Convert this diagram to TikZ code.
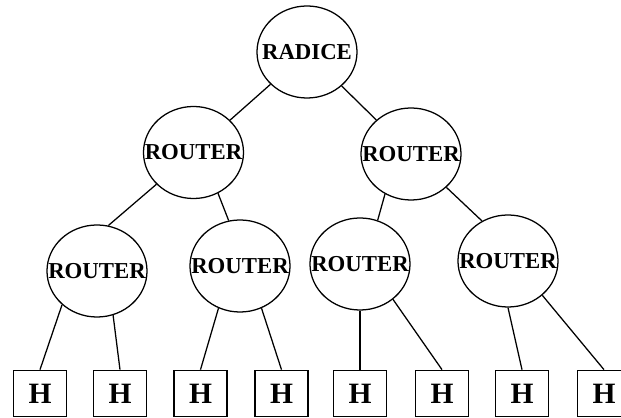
\documentclass[tikz,border=0pt]{standalone}
\usepackage{fontspec}
\setmainfont{Liberation Serif}
\usepackage{tikz}
\usetikzlibrary{shapes.geometric}

\newcommand{\snug}[1]{\makebox[0pt]{#1}}

\begin{document}
\begin{tikzpicture}[x=0.025cm, y=-0.025cm, line width=0.9pt,
  every node/.style={font=\bfseries\fontsize{16.2}{18}\selectfont},
  router/.style={draw, ellipse, inner sep=0pt,
                 minimum width=2.5cm, minimum height=2.3cm},
  host/.style={draw, rectangle, inner sep=0pt,
               minimum width=1.33cm, minimum height=1.16cm,
               font=\bfseries\fontsize{21}{24}\selectfont}]
\fill[white] (0,0) rectangle (621,418);
\useasboundingbox (0,0) rectangle (621,418);

\node[router] (root) at (307,52)    {\snug{RADICE}};
\node[router] (ra)   at (193.5,152.5) {\snug{ROUTER}};
\node[router] (rb)   at (411,154)   {\snug{ROUTER}};
\node[router] (r1)   at (97,271)    {\snug{ROUTER}};
\node[router] (r2)   at (240,266)   {\snug{ROUTER}};
\node[router] (r3)   at (360,264)   {\snug{ROUTER}};
\node[router] (r4)   at (508,261)   {\snug{ROUTER}};

\foreach \i/\x in {1/40, 2/120, 3/200.5, 4/281.5, 5/360, 6/442, 7/522, 8/604}
  \node[host] (h\i) at (\x,393.5) {H};

\draw (root) -- (ra);
\draw (root) -- (rb);
\draw (ra) -- (r1.76);
\draw (ra.301) -- (r2.104);
\draw (rb.237) -- (r3.68);
\draw (rb) -- (r4.123);

\draw (r1.224) -- (h1.north);
\draw (r1.290) -- (h2.north);
\draw (r2.243) -- (h3.north);
\draw (r2.297) -- (h4.north);
\draw (r3.south) -- (h5.north);
\draw (r3.313) -- (h6.north);
\draw (r4.south) -- (h7.north);
\draw (r4.315) -- (h8.north);
\end{tikzpicture}
\end{document}
